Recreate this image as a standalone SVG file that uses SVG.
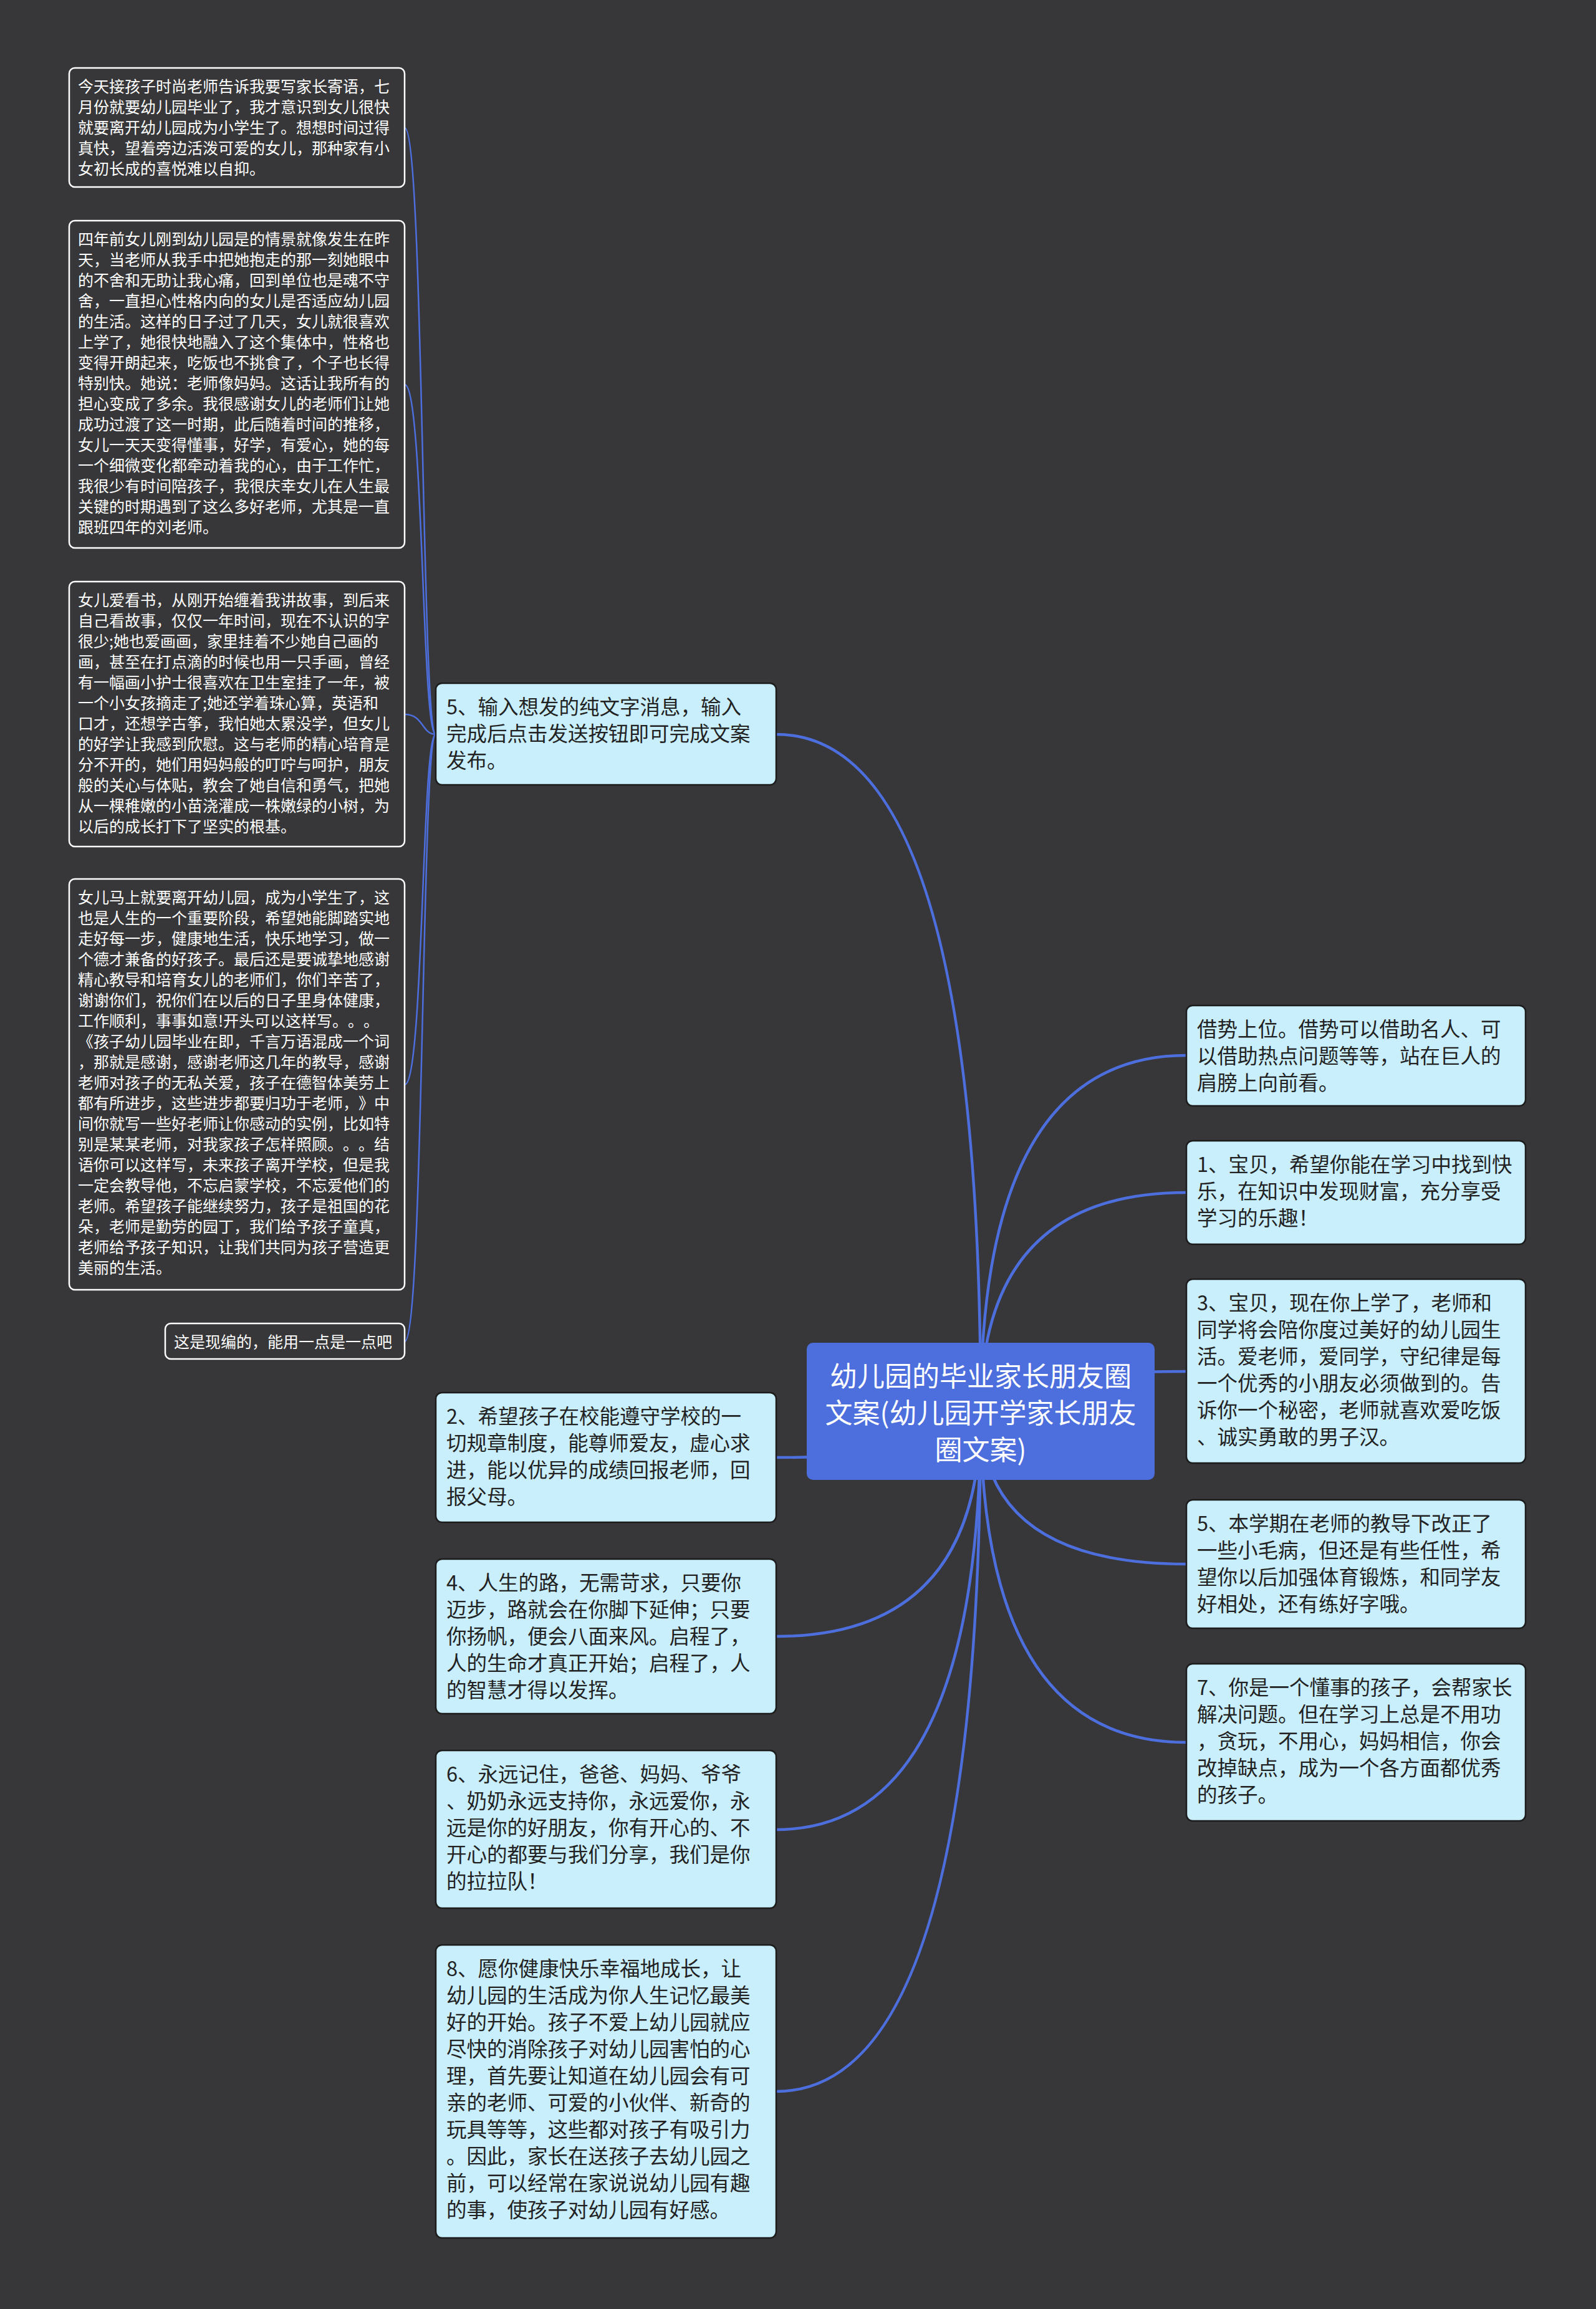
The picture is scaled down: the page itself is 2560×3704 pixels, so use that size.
<svg xmlns="http://www.w3.org/2000/svg" width="2560" height="3704" viewBox="0 0 2560 3704">
<style>
.bg{fill:#373638}
.main{fill:none;stroke:#4d6fde;stroke-width:4.5}
.sub{fill:none;stroke:#4d6fde;stroke-width:2.5}
.leaf{fill:#373638;stroke:#ffffff;stroke-width:2.5}
.n1{fill:#c9eefc;stroke:#1c1c1c;stroke-width:2.5}
.root{fill:#4d6fde}
text{text-spacing-trim:space-all;font-feature-settings:normal}
.tl{font-family:"Noto Sans CJK SC","Noto Sans",sans-serif;font-size:25px;fill:#ffffff}
.t1{font-family:"Noto Sans CJK SC","Noto Sans",sans-serif;font-size:32.5px;fill:#222222}
.tr{font-family:"Noto Sans CJK SC","Noto Sans",sans-serif;font-size:44px;fill:#ffffff;text-anchor:middle}
</style>
<rect class="bg" x="0" y="0" width="2560" height="3704"/>
<g id="connectors">
<path class="main" d="M1573,2264 Q1573,1178 1245,1178"/>
<path class="main" d="M1573,2264 Q1573,2338 1245,2338"/>
<path class="main" d="M1573,2264 Q1573,2625 1245,2625"/>
<path class="main" d="M1573,2264 Q1573,2935 1245,2935"/>
<path class="main" d="M1573,2264 Q1573,3355 1245,3355"/>
<path class="main" d="M1573,2264 Q1573,1693 1903,1693"/>
<path class="main" d="M1573,2264 Q1573,1913 1903,1913"/>
<path class="main" d="M1573,2264 Q1573,2200 1903,2200"/>
<path class="main" d="M1573,2264 Q1573,2509 1903,2509"/>
<path class="main" d="M1573,2264 Q1573,2795 1903,2795"/>
<path class="sub" d="M699,1178 C676,1178 680,205 649,205"/>
<path class="sub" d="M699,1178 C676,1178 680,617 649,617"/>
<path class="sub" d="M699,1178 C676,1178 680,1146 649,1146"/>
<path class="sub" d="M699,1178 C676,1178 680,1740 649,1740"/>
<path class="sub" d="M699,1178 C676,1178 680,2152 649,2152"/>
</g>
<g id="b1">
<rect class="leaf" x="111" y="109" width="538" height="191" rx="9"/>
<text class="tl" x="125" y="148"><tspan x="125">今天接孩子时尚老师告诉我要写家长寄语，七</tspan><tspan x="125" dy="33">月份就要幼儿园毕业了，我才意识到女儿很快</tspan><tspan x="125" dy="33">就要离开幼儿园成为小学生了。想想时间过得</tspan><tspan x="125" dy="33">真快，望着旁边活泼可爱的女儿，那种家有小</tspan><tspan x="125" dy="33">女初长成的喜悦难以自抑。</tspan></text>
</g>
<g id="b2">
<rect class="leaf" x="111" y="354" width="538" height="525" rx="9"/>
<text class="tl" x="125" y="393"><tspan x="125">四年前女儿刚到幼儿园是的情景就像发生在昨</tspan><tspan x="125" dy="33">天，当老师从我手中把她抱走的那一刻她眼中</tspan><tspan x="125" dy="33">的不舍和无助让我心痛，回到单位也是魂不守</tspan><tspan x="125" dy="33">舍，一直担心性格内向的女儿是否适应幼儿园</tspan><tspan x="125" dy="33">的生活。这样的日子过了几天，女儿就很喜欢</tspan><tspan x="125" dy="33">上学了，她很快地融入了这个集体中，性格也</tspan><tspan x="125" dy="33">变得开朗起来，吃饭也不挑食了，个子也长得</tspan><tspan x="125" dy="33">特别快。她说：老师像妈妈。这话让我所有的</tspan><tspan x="125" dy="33">担心变成了多余。我很感谢女儿的老师们让她</tspan><tspan x="125" dy="33">成功过渡了这一时期，此后随着时间的推移，</tspan><tspan x="125" dy="33">女儿一天天变得懂事，好学，有爱心，她的每</tspan><tspan x="125" dy="33">一个细微变化都牵动着我的心，由于工作忙，</tspan><tspan x="125" dy="33">我很少有时间陪孩子，我很庆幸女儿在人生最</tspan><tspan x="125" dy="33">关键的时期遇到了这么多好老师，尤其是一直</tspan><tspan x="125" dy="33">跟班四年的刘老师。</tspan></text>
</g>
<g id="b3">
<rect class="leaf" x="111" y="933" width="538" height="425" rx="9"/>
<text class="tl" x="125" y="972"><tspan x="125">女儿爱看书，从刚开始缠着我讲故事，到后来</tspan><tspan x="125" dy="33">自己看故事，仅仅一年时间，现在不认识的字</tspan><tspan x="125" dy="33">很少;她也爱画画，家里挂着不少她自己画的</tspan><tspan x="125" dy="33">画，甚至在打点滴的时候也用一只手画，曾经</tspan><tspan x="125" dy="33">有一幅画小护士很喜欢在卫生室挂了一年，被</tspan><tspan x="125" dy="33">一个小女孩摘走了;她还学着珠心算，英语和</tspan><tspan x="125" dy="33">口才，还想学古筝，我怕她太累没学，但女儿</tspan><tspan x="125" dy="33">的好学让我感到欣慰。这与老师的精心培育是</tspan><tspan x="125" dy="33">分不开的，她们用妈妈般的叮咛与呵护，朋友</tspan><tspan x="125" dy="33">般的关心与体贴，教会了她自信和勇气，把她</tspan><tspan x="125" dy="33">从一棵稚嫩的小苗浇灌成一株嫩绿的小树，为</tspan><tspan x="125" dy="33">以后的成长打下了坚实的根基。</tspan></text>
</g>
<g id="b4">
<rect class="leaf" x="111" y="1410" width="538" height="659" rx="9"/>
<text class="tl" x="125" y="1449"><tspan x="125">女儿马上就要离开幼儿园，成为小学生了，这</tspan><tspan x="125" dy="33">也是人生的一个重要阶段，希望她能脚踏实地</tspan><tspan x="125" dy="33">走好每一步，健康地生活，快乐地学习，做一</tspan><tspan x="125" dy="33">个德才兼备的好孩子。最后还是要诚挚地感谢</tspan><tspan x="125" dy="33">精心教导和培育女儿的老师们，你们辛苦了，</tspan><tspan x="125" dy="33">谢谢你们，祝你们在以后的日子里身体健康，</tspan><tspan x="125" dy="33">工作顺利，事事如意!开头可以这样写。。。</tspan><tspan x="125" dy="33">《孩子幼儿园毕业在即，千言万语混成一个词</tspan><tspan x="125" dy="33">，那就是感谢，感谢老师这几年的教导，感谢</tspan><tspan x="125" dy="33">老师对孩子的无私关爱，孩子在德智体美劳上</tspan><tspan x="125" dy="33">都有所进步，这些进步都要归功于老师，》中</tspan><tspan x="125" dy="33">间你就写一些好老师让你感动的实例，比如特</tspan><tspan x="125" dy="33">别是某某老师，对我家孩子怎样照顾。。。结</tspan><tspan x="125" dy="33">语你可以这样写，未来孩子离开学校，但是我</tspan><tspan x="125" dy="33">一定会教导他，不忘启蒙学校，不忘爱他们的</tspan><tspan x="125" dy="33">老师。希望孩子能继续努力，孩子是祖国的花</tspan><tspan x="125" dy="33">朵，老师是勤劳的园丁，我们给予孩子童真，</tspan><tspan x="125" dy="33">老师给予孩子知识，让我们共同为孩子营造更</tspan><tspan x="125" dy="33">美丽的生活。</tspan></text>
</g>
<g id="b5">
<rect class="leaf" x="265" y="2123" width="384" height="57" rx="9"/>
<text class="tl" x="279" y="2162">这是现编的，能用一点是一点吧</text>
</g>
<g id="root">
<rect class="root" x="1294" y="2154" width="558" height="220" rx="10"/>
<text class="tr" x="1573" y="2224"><tspan x="1573">幼儿园的毕业家长朋友圈</tspan><tspan x="1573" dy="59">文案(幼儿园开学家长朋友</tspan><tspan x="1573" dy="59">圈文案)</tspan></text>
</g>
<g id="l5">
<rect class="n1" x="699" y="1096" width="546" height="163" rx="10"/>
<text class="t1" x="716" y="1146"><tspan x="716">5、输入想发的纯文字消息，输入</tspan><tspan x="716" dy="43">完成后点击发送按钮即可完成文案</tspan><tspan x="716" dy="43">发布。</tspan></text>
</g>
<g id="l2">
<rect class="n1" x="699" y="2234" width="546" height="208" rx="10"/>
<text class="t1" x="716" y="2284"><tspan x="716">2、希望孩子在校能遵守学校的一</tspan><tspan x="716" dy="43">切规章制度，能尊师爱友，虚心求</tspan><tspan x="716" dy="43">进，能以优异的成绩回报老师，回</tspan><tspan x="716" dy="43">报父母。</tspan></text>
</g>
<g id="l4">
<rect class="n1" x="699" y="2501" width="546" height="248" rx="10"/>
<text class="t1" x="716" y="2551"><tspan x="716">4、人生的路，无需苛求，只要你</tspan><tspan x="716" dy="43">迈步，路就会在你脚下延伸；只要</tspan><tspan x="716" dy="43">你扬帆，便会八面来风。启程了，</tspan><tspan x="716" dy="43">人的生命才真正开始；启程了，人</tspan><tspan x="716" dy="43">的智慧才得以发挥。</tspan></text>
</g>
<g id="l6">
<rect class="n1" x="699" y="2808" width="546" height="253" rx="10"/>
<text class="t1" x="716" y="2858"><tspan x="716">6、永远记住，爸爸、妈妈、爷爷</tspan><tspan x="716" dy="43">、奶奶永远支持你，永远爱你，永</tspan><tspan x="716" dy="43">远是你的好朋友，你有开心的、不</tspan><tspan x="716" dy="43">开心的都要与我们分享，我们是你</tspan><tspan x="716" dy="43">的拉拉队！</tspan></text>
</g>
<g id="l8">
<rect class="n1" x="699" y="3120" width="546" height="470" rx="10"/>
<text class="t1" x="716" y="3170"><tspan x="716">8、愿你健康快乐幸福地成长，让</tspan><tspan x="716" dy="43">幼儿园的生活成为你人生记忆最美</tspan><tspan x="716" dy="43">好的开始。孩子不爱上幼儿园就应</tspan><tspan x="716" dy="43">尽快的消除孩子对幼儿园害怕的心</tspan><tspan x="716" dy="43">理，首先要让知道在幼儿园会有可</tspan><tspan x="716" dy="43">亲的老师、可爱的小伙伴、新奇的</tspan><tspan x="716" dy="43">玩具等等，这些都对孩子有吸引力</tspan><tspan x="716" dy="43">。因此，家长在送孩子去幼儿园之</tspan><tspan x="716" dy="43">前，可以经常在家说说幼儿园有趣</tspan><tspan x="716" dy="43">的事，使孩子对幼儿园有好感。</tspan></text>
</g>
<g id="r1">
<rect class="n1" x="1903" y="1613" width="544" height="161" rx="10"/>
<text class="t1" x="1920" y="1663"><tspan x="1920">借势上位。借势可以借助名人、可</tspan><tspan x="1920" dy="43">以借助热点问题等等，站在巨人的</tspan><tspan x="1920" dy="43">肩膀上向前看。</tspan></text>
</g>
<g id="r2">
<rect class="n1" x="1903" y="1830" width="544" height="166" rx="10"/>
<text class="t1" x="1920" y="1880"><tspan x="1920">1、宝贝，希望你能在学习中找到快</tspan><tspan x="1920" dy="43">乐，在知识中发现财富，充分享受</tspan><tspan x="1920" dy="43">学习的乐趣！</tspan></text>
</g>
<g id="r3">
<rect class="n1" x="1903" y="2052" width="544" height="295" rx="10"/>
<text class="t1" x="1920" y="2102"><tspan x="1920">3、宝贝，现在你上学了，老师和</tspan><tspan x="1920" dy="43">同学将会陪你度过美好的幼儿园生</tspan><tspan x="1920" dy="43">活。爱老师，爱同学，守纪律是每</tspan><tspan x="1920" dy="43">一个优秀的小朋友必须做到的。告</tspan><tspan x="1920" dy="43">诉你一个秘密，老师就喜欢爱吃饭</tspan><tspan x="1920" dy="43">、诚实勇敢的男子汉。</tspan></text>
</g>
<g id="r4">
<rect class="n1" x="1903" y="2406" width="544" height="206" rx="10"/>
<text class="t1" x="1920" y="2456"><tspan x="1920">5、本学期在老师的教导下改正了</tspan><tspan x="1920" dy="43">一些小毛病，但还是有些任性，希</tspan><tspan x="1920" dy="43">望你以后加强体育锻炼，和同学友</tspan><tspan x="1920" dy="43">好相处，还有练好字哦。</tspan></text>
</g>
<g id="r5">
<rect class="n1" x="1903" y="2669" width="544" height="252" rx="10"/>
<text class="t1" x="1920" y="2719"><tspan x="1920">7、你是一个懂事的孩子，会帮家长</tspan><tspan x="1920" dy="43">解决问题。但在学习上总是不用功</tspan><tspan x="1920" dy="43">，贪玩，不用心，妈妈相信，你会</tspan><tspan x="1920" dy="43">改掉缺点，成为一个各方面都优秀</tspan><tspan x="1920" dy="43">的孩子。</tspan></text>
</g>
</svg>
